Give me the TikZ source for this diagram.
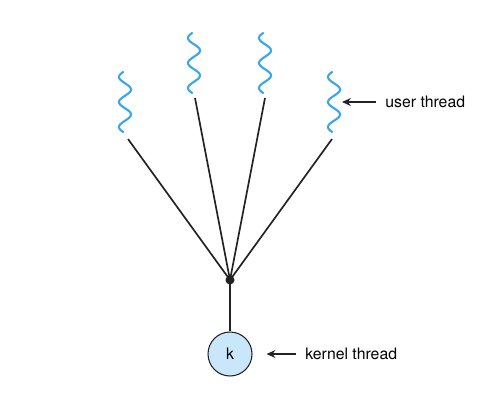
\documentclass[tikz,border=0pt]{standalone}
\usepackage{fontspec}
\setmainfont{TeX Gyre Heros}
\usetikzlibrary{arrows.meta,positioning}
\definecolor{thblue}{HTML}{3AA6EC}
\definecolor{kfill}{HTML}{C9E6FA}
\definecolor{lngray}{HTML}{222222}

\begin{document}
\begin{tikzpicture}[
    x=0.02cm,
    y=-0.02cm,
    font=\fontsize{9}{11}\selectfont,
    thread/.style={color=thblue, line width=1.2pt, line cap=round},
    link/.style={draw=lngray, line width=0.95pt},
    pointer/.style={draw=lngray, line width=0.9pt, -{Stealth[length=5pt,width=4.5pt]}},
    kernel/.style={circle, draw=lngray, line width=0.6pt, fill=kfill, minimum size=0.88cm, inner sep=0pt}
  ]
    \useasboundingbox (0,0) rectangle (499,400);

    % user threads
    \draw[thread] plot[domain=0:60, samples=80, smooth] ({125+6*sin(14.4*\x-162)}, {72+\x});
    \draw[thread] plot[domain=0:60, samples=80, smooth] ({194+6*sin(14.4*\x-162)}, {33+\x});
    \draw[thread] plot[domain=0:60, samples=80, smooth] ({265+6*sin(14.4*\x-162)}, {33+\x});
    \draw[thread] plot[domain=0:60, samples=80, smooth] ({334+6*sin(14.4*\x-162)}, {72+\x});
    \coordinate (u1) at (128,139);
    \coordinate (u2) at (195,98);
    \coordinate (u3) at (265,98);
    \coordinate (u4) at (332,139);
    \coordinate (u4tip) at (342,102);

    % many-to-one join
    \fill[lngray] (230,280) circle (0.09cm);
    \coordinate (join) at (230,280);
    \node[kernel] (k) at (230,354) {k};
    \draw[link] (join) -- (u1);
    \draw[link] (join) -- (u2);
    \draw[link] (join) -- (u3);
    \draw[link] (join) -- (u4);
    \draw[link] (join) -- (k.north);

    % labels
    \node[anchor=west, inner sep=0pt] (ulabel) at (385,102) {user thread};
    \node[anchor=west, inner sep=0pt] (klabel) at (305,354) {kernel thread};
    \draw[pointer] ([xshift=-5pt]ulabel.west) -- (u4tip);
    \draw[pointer] ([xshift=-5pt]klabel.west) -- ([xshift=8pt]k.east);
  \end{tikzpicture}
\end{document}
